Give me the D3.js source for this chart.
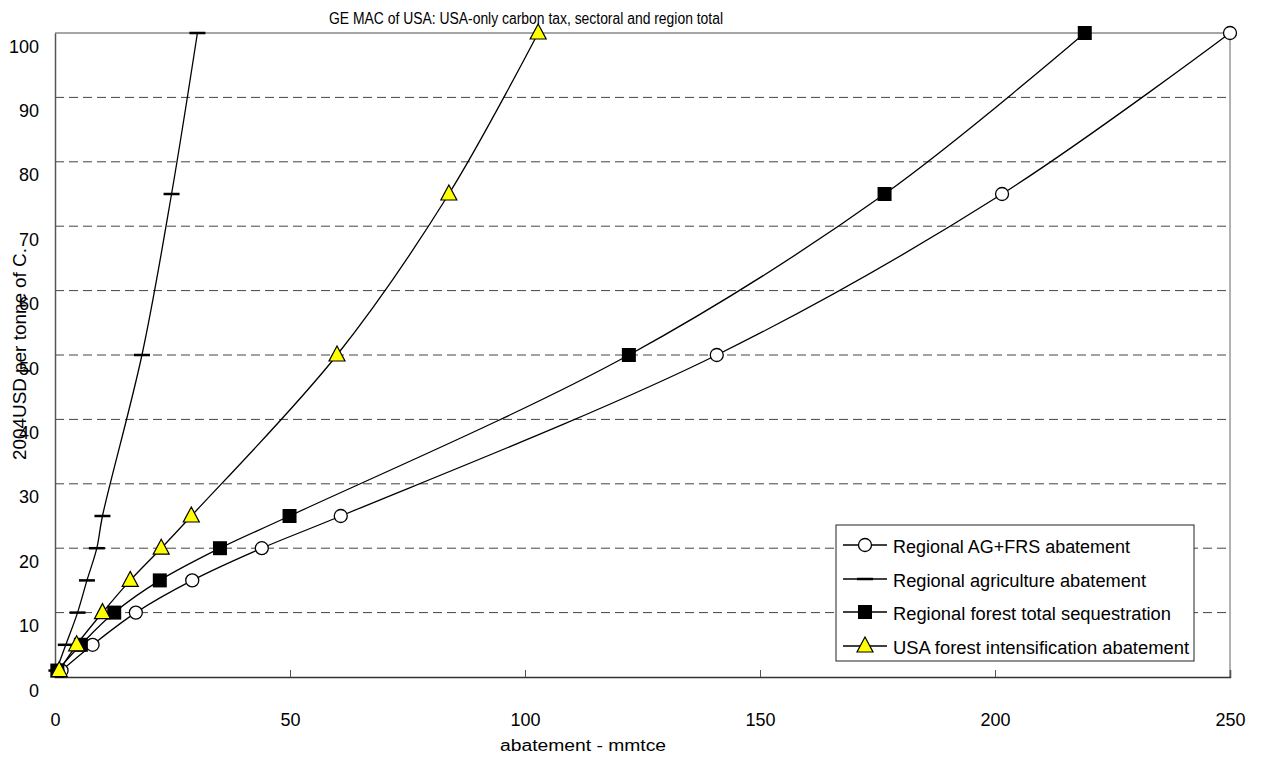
<!DOCTYPE html>
<html lang="en">
<head>
    <meta charset="UTF-8">
    <title>GE MAC of USA</title>
    <script src="https://d3js.org/d3.v7.min.js"></script>
    <style>
        body {
            margin: 0;
            background: #fff;
            font-family: "Liberation Sans", Arial, sans-serif;
        }
        svg text {
            fill: #000;
        }
    </style>
</head>
<body>
    <div id="chart"></div>

    <script>
        // data
        const priceLevels = [1, 5, 10, 15, 20, 25, 50, 75, 100];
        const agFrsAbatement = [1.4, 8.0, 17.2, 29.2, 44.0, 60.8, 140.8, 201.5, 250];
        const agricultureAbatement = [0.3, 2.3, 4.8, 6.8, 8.9, 10.1, 18.5, 24.8, 30.3];
        const forestSequestration = [0.5, 5.5, 12.6, 22.3, 35.1, 49.9, 122.1, 176.5, 219.1];
        const usaForestIntensification = [0.9, 4.6, 10.1, 16.0, 22.6, 29.0, 60.0, 83.8, 102.8];
        const seriesNames = [
            "Regional AG+FRS abatement",
            "Regional agriculture abatement",
            "Regional forest total sequestration",
            "USA forest intensification abatement"
        ];
        const xTicks = [0, 50, 100, 150, 200, 250];
        const yTicks = [0, 10, 20, 30, 40, 50, 60, 70, 80, 90, 100];

        const series = [
            { name: seriesNames[0], values: agFrsAbatement, marker: "circle" },
            { name: seriesNames[1], values: agricultureAbatement, marker: "dash" },
            { name: seriesNames[2], values: forestSequestration, marker: "square" },
            { name: seriesNames[3], values: usaForestIntensification, marker: "triangle" }
        ];

        const W = 1264, H = 758;
        const plot = { left: 55, right: 1230, top: 33, bottom: 677 };

        const svg = d3.select("#chart")
            .append("svg")
            .attr("width", W)
            .attr("height", H);

        const x = d3.scaleLinear().domain([0, 250]).range([plot.left, plot.right]);
        const y = d3.scaleLinear().domain([0, 100]).range([plot.bottom, plot.top]);

        // gridlines (dashed)
        svg.append("g")
            .selectAll("line")
            .data(yTicks.filter(t => t > 0 && t < 100))
            .join("line")
            .attr("x1", plot.left).attr("x2", plot.right)
            .attr("y1", d => y(d)).attr("y2", d => y(d))
            .attr("stroke", "#444")
            .attr("stroke-width", 1)
            .attr("stroke-dasharray", "9,5");

        // plot border top / right
        svg.append("line")
            .attr("x1", plot.left).attr("x2", plot.right)
            .attr("y1", y(100)).attr("y2", y(100))
            .attr("stroke", "#888").attr("stroke-width", 1.5);
        svg.append("line")
            .attr("x1", plot.right).attr("x2", plot.right)
            .attr("y1", plot.top).attr("y2", plot.bottom)
            .attr("stroke", "#999").attr("stroke-width", 1.5);

        // x axis
        const xAxis = svg.append("g")
            .attr("transform", `translate(0,${plot.bottom})`)
            .call(d3.axisBottom(x).tickValues(xTicks).tickSize(-7).tickPadding(36));
        xAxis.select(".domain").attr("stroke", "#333").attr("stroke-width", 1.5);
        xAxis.selectAll(".tick line").attr("stroke", "#555");
        xAxis.selectAll(".tick text")
            .style("font-family", "'Liberation Sans', Arial, sans-serif")
            .style("font-size", "19px")
            .attr("textLength", d => String(d).length * 10)
            .attr("lengthAdjust", "spacingAndGlyphs")
            .attr("fill", "#000");

        // y axis
        const yAxis = svg.append("g")
            .attr("transform", `translate(${plot.left},0)`)
            .call(d3.axisLeft(y).tickValues(yTicks).tickSize(0).tickPadding(16));
        yAxis.select(".domain").attr("stroke", "#555").attr("stroke-width", 1.5);
        yAxis.selectAll(".tick text")
            .attr("dy", "1.0em")
            .style("font-family", "'Liberation Sans', Arial, sans-serif")
            .style("font-size", "19px")
            .attr("textLength", d => String(d).length * 10)
            .attr("lengthAdjust", "spacingAndGlyphs")
            .attr("fill", "#000");

        // axis titles
        svg.append("text")
            .attr("x", 526).attr("y", 24)
            .attr("text-anchor", "middle")
            .attr("textLength", 394)
            .attr("lengthAdjust", "spacingAndGlyphs")
            .style("font-size", "16px")
            .text("GE MAC of USA: USA-only carbon tax, sectoral and region total");

        svg.append("text")
            .attr("transform", "translate(26,354) rotate(-90)")
            .attr("text-anchor", "middle")
            .attr("textLength", 212)
            .attr("lengthAdjust", "spacingAndGlyphs")
            .style("font-size", "19px")
            .text("2004USD per tonne of C.");

        svg.append("text")
            .attr("x", 583).attr("y", 751)
            .attr("text-anchor", "middle")
            .attr("textLength", 166)
            .attr("lengthAdjust", "spacingAndGlyphs")
            .style("font-size", "16px")
            .text("abatement - mmtce");

        // markers
        function drawMarker(g, type, cx, cy) {
            if (type === "circle") {
                g.append("circle")
                    .attr("cx", cx).attr("cy", cy).attr("r", 6.5)
                    .attr("fill", "#fff").attr("stroke", "#000").attr("stroke-width", 1.3);
            } else if (type === "dash") {
                g.append("line")
                    .attr("x1", cx - 8).attr("x2", cx + 8)
                    .attr("y1", cy).attr("y2", cy)
                    .attr("stroke", "#000").attr("stroke-width", 2.5);
            } else if (type === "square") {
                g.append("rect")
                    .attr("x", cx - 7).attr("y", cy - 7)
                    .attr("width", 14).attr("height", 14)
                    .attr("fill", "#000");
            } else if (type === "triangle") {
                g.append("path")
                    .attr("d", `M${cx},${cy - 9}L${cx + 8},${cy + 6}L${cx - 8},${cy + 6}Z`)
                    .attr("fill", "#ffff00").attr("stroke", "#000").attr("stroke-width", 1.2);
            }
        }

        const line = d3.line()
            .x(d => x(d[0]))
            .y(d => y(d[1]))
            .curve(d3.curveCatmullRom.alpha(0.5));

        series.forEach(s => {
            const pts = s.values.map((v, i) => [v, priceLevels[i]]);
            svg.append("path")
                .datum(pts)
                .attr("fill", "none")
                .attr("stroke", "#000")
                .attr("stroke-width", 1.3)
                .attr("d", line);
        });

        series.forEach(s => {
            const g = svg.append("g");
            s.values.forEach((v, i) => drawMarker(g, s.marker, x(v), y(priceLevels[i])));
        });

        // legend
        const legend = svg.append("g");
        legend.append("rect")
            .attr("x", 836).attr("y", 525)
            .attr("width", 358).attr("height", 136)
            .attr("fill", "#fff").attr("stroke", "#222").attr("stroke-width", 1);

        const legendRows = [545, 579, 612, 646];
        const legendWidths = [237, 253, 278, 296];
        series.forEach((s, i) => {
            const ly = legendRows[i];
            legend.append("line")
                .attr("x1", 843).attr("x2", 887)
                .attr("y1", ly).attr("y2", ly)
                .attr("stroke", "#000").attr("stroke-width", 1.3);
            drawMarker(legend, s.marker, 865, ly);
            legend.append("text")
                .attr("x", 893).attr("y", ly + 8)
                .attr("textLength", legendWidths[i])
                .attr("lengthAdjust", "spacingAndGlyphs")
                .style("font-size", "18px")
                .text(s.name);
        });
    </script>
</body>
</html>
